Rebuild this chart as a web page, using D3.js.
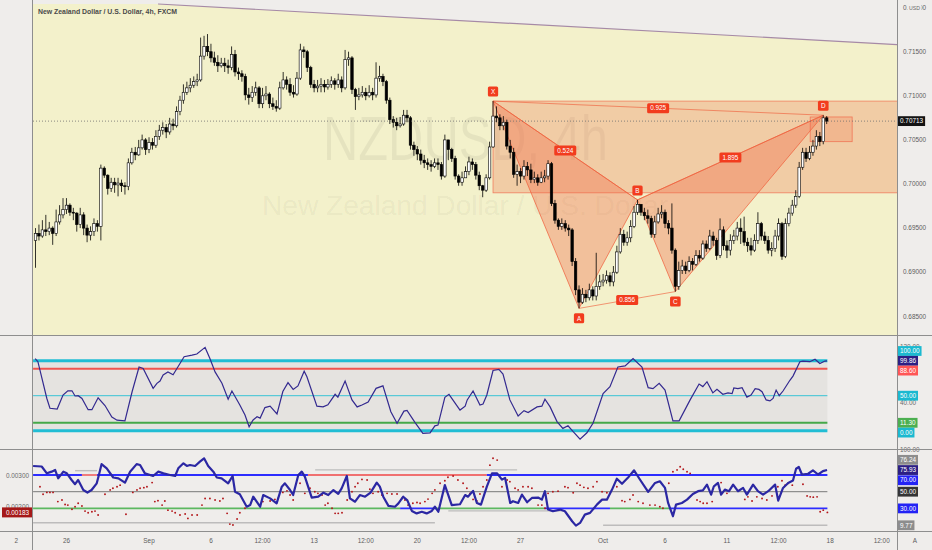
<!DOCTYPE html>
<html>
<head>
<meta charset="utf-8">
<script src="https://cdn.jsdelivr.net/npm/d3@7/dist/d3.min.js"></script>
<style>
html,body{margin:0;padding:0;background:#efedeb;}
svg{display:block;}
text{font-family:"Liberation Sans",Arial,sans-serif;}
</style>
</head>
<body>
<svg id="chart" width="932" height="550"></svg>
<script>
// ================= DATA =================
const timeTickBars   = [-5.6, 9, 33, 51, 66, 81, 96, 111, 126, 141, 165, 183, 201, 216, 231, 246];
const timeTickLabels = ["2","26","Sep","6","12:00","13","12:00","20","12:00","27","Oct","6","11","12:00","18","12:00"];
const priceTicks = [0.685,0.690,0.695,0.700,0.705,0.710,0.715,0.720];
const lastPrice = 0.70713;
const chartTitle = "New Zealand Dollar / U.S. Dollar, 4h, FXCM";
const watermarkSymbol = "NZDUSD, 4h";
const watermarkName = "New Zealand Dollar / U.S. Dollar";

// 4h candles (bar index 0..230)
const open = [0.6936,
0.6944,0.6941,0.6948,0.6946,0.6950,0.6944,0.6957,0.6965,0.6971,
0.6976,0.6968,0.6967,0.6954,0.6965,0.6950,0.6942,0.6946,0.6955,0.6952,
0.7018,0.7010,0.6995,0.7002,0.6999,0.7001,0.6998,0.6997,0.7024,0.7036,
0.7033,0.7041,0.7050,0.7039,0.7047,0.7044,0.7054,0.7061,0.7064,0.7059,
0.7068,0.7066,0.7082,0.7095,0.7104,0.7109,0.7112,0.7116,0.7118,0.7145,
0.7156,0.7150,0.7143,0.7138,0.7134,0.7137,0.7134,0.7132,0.7147,0.7127,
0.7125,0.7122,0.7101,0.7098,0.7104,0.7109,0.7091,0.7100,0.7102,0.7091,
0.7088,0.7086,0.7109,0.7118,0.7113,0.7104,0.7102,0.7120,0.7152,0.7150,
0.7132,0.7113,0.7109,0.7111,0.7113,0.7110,0.7113,0.7117,0.7113,0.7118,
0.7109,0.7141,0.7143,0.7107,0.7099,0.7101,0.7104,0.7100,0.7104,0.7101,
0.7120,0.7122,0.7116,0.7095,0.7073,0.7070,0.7066,0.7068,0.7078,0.7075,
0.7044,0.7039,0.7034,0.7027,0.7024,0.7022,0.7020,0.7024,0.7022,0.7009,
0.7050,0.7039,0.7029,0.7009,0.7002,0.7007,0.7014,0.7025,0.7022,0.7010,
0.6998,0.6993,0.7007,0.7042,0.7077,0.7075,0.7066,0.7070,0.7043,0.7036,
0.7011,0.7014,0.7009,0.7020,0.7016,0.7005,0.7007,0.7002,0.7007,0.7009,
0.7023,0.6978,0.6959,0.6952,0.6955,0.6950,0.6948,0.6912,0.6880,0.6866,
0.6875,0.6871,0.6880,0.6873,0.6884,0.6889,0.6891,0.6896,0.6889,0.6900,
0.6923,0.6943,0.6934,0.6939,0.6952,0.6968,0.6977,0.6968,0.6964,0.6961,
0.6943,0.6957,0.6966,0.6968,0.6955,0.6950,0.6925,0.6884,0.6902,0.6907,
0.6902,0.6912,0.6909,0.6919,0.6916,0.6932,0.6927,0.6941,0.6936,0.6919,
0.6948,0.6930,0.6925,0.6936,0.6941,0.6950,0.6946,0.6934,0.6930,0.6925,
0.6936,0.6955,0.6941,0.6936,0.6925,0.6927,0.6941,0.6955,0.6918,0.6955,
0.6967,0.6976,0.6986,0.7019,0.7036,0.7029,0.7036,0.7043,0.7054,0.7048,
0.7075];
const high = [
0.6950,0.6954,0.6959,0.6965,0.6957,0.6952,0.6971,0.6976,0.6984,0.6984,
0.6978,0.6973,0.6968,0.6973,0.6968,0.6954,0.6952,0.6961,0.6959,0.7022,
0.7020,0.7011,0.7007,0.7007,0.7007,0.7005,0.7002,0.7029,0.7041,0.7042,
0.7050,0.7056,0.7052,0.7053,0.7052,0.7061,0.7067,0.7070,0.7068,0.7075,
0.7074,0.7088,0.7100,0.7113,0.7116,0.7120,0.7122,0.7125,0.7166,0.7168,
0.7170,0.7159,0.7150,0.7146,0.7143,0.7143,0.7141,0.7156,0.7152,0.7132,
0.7129,0.7125,0.7109,0.7111,0.7116,0.7111,0.7109,0.7111,0.7104,0.7098,
0.7095,0.7116,0.7127,0.7122,0.7120,0.7112,0.7127,0.7159,0.7156,0.7152,
0.7134,0.7118,0.7118,0.7120,0.7118,0.7119,0.7122,0.7120,0.7125,0.7122,
0.7152,0.7150,0.7145,0.7109,0.7109,0.7111,0.7109,0.7112,0.7109,0.7138,
0.7134,0.7125,0.7118,0.7098,0.7077,0.7075,0.7076,0.7084,0.7084,0.7077,
0.7048,0.7043,0.7039,0.7033,0.7029,0.7027,0.7029,0.7029,0.7025,0.7056,
0.7050,0.7041,0.7032,0.7011,0.7014,0.7020,0.7031,0.7029,0.7025,0.7014,
0.6999,0.7011,0.7048,0.7094,0.7088,0.7079,0.7077,0.7073,0.7050,0.7041,
0.7022,0.7018,0.7027,0.7025,0.7023,0.7014,0.7011,0.7014,0.7016,0.7027,
0.7025,0.6982,0.6961,0.6961,0.6959,0.6954,0.6950,0.6916,0.6885,0.6882,
0.6880,0.6887,0.6884,0.6922,0.6897,0.6898,0.6902,0.6900,0.6907,0.6930,
0.6950,0.6948,0.6946,0.6959,0.6975,0.6982,0.6977,0.6973,0.6971,0.6964,
0.6964,0.6973,0.6976,0.6971,0.6959,0.6978,0.6927,0.6912,0.6914,0.6912,
0.6918,0.6916,0.6925,0.6925,0.6936,0.6936,0.6948,0.6946,0.6939,0.6961,
0.6952,0.6936,0.6943,0.6948,0.6957,0.6961,0.6963,0.6939,0.6939,0.6943,
0.6968,0.6957,0.6946,0.6941,0.6934,0.6948,0.6961,0.6957,0.6961,0.6973,
0.6982,0.6993,0.7025,0.7041,0.7041,0.7043,0.7050,0.7061,0.7059,0.7078,
0.7077];
const low = [
0.6905,0.6936,0.6939,0.6941,0.6942,0.6931,0.6941,0.6954,0.6961,0.6966,
0.6964,0.6959,0.6946,0.6950,0.6942,0.6934,0.6936,0.6941,0.6946,0.6936,
0.7007,0.6988,0.6991,0.6990,0.6986,0.6991,0.6988,0.6993,0.7022,0.7027,
0.7032,0.7039,0.7033,0.7035,0.7039,0.7041,0.7050,0.7056,0.7052,0.7056,
0.7061,0.7064,0.7078,0.7091,0.7101,0.7104,0.7109,0.7111,0.7116,0.7141,
0.7145,0.7138,0.7134,0.7127,0.7132,0.7127,0.7125,0.7129,0.7122,0.7118,
0.7116,0.7095,0.7090,0.7093,0.7100,0.7086,0.7086,0.7095,0.7086,0.7084,
0.7082,0.7084,0.7107,0.7107,0.7100,0.7098,0.7100,0.7118,0.7143,0.7127,
0.7109,0.7104,0.7104,0.7104,0.7104,0.7107,0.7109,0.7107,0.7109,0.7104,
0.7107,0.7134,0.7102,0.7084,0.7095,0.7098,0.7095,0.7098,0.7095,0.7098,
0.7116,0.7111,0.7091,0.7068,0.7064,0.7061,0.7064,0.7066,0.7070,0.7039,
0.7032,0.7027,0.7022,0.7018,0.7016,0.7014,0.7018,0.7016,0.7005,0.7007,
0.7027,0.7025,0.7005,0.6998,0.6998,0.7007,0.7010,0.7016,0.7005,0.6993,
0.6985,0.6991,0.7005,0.7041,0.7070,0.7061,0.7061,0.7039,0.7029,0.7007,
0.6998,0.7001,0.7005,0.7009,0.7001,0.7001,0.6998,0.7001,0.7002,0.7005,
0.6975,0.6955,0.6948,0.6948,0.6946,0.6941,0.6907,0.6874,0.6859,0.6864,
0.6866,0.6868,0.6868,0.6868,0.6880,0.6884,0.6887,0.6884,0.6884,0.6898,
0.6921,0.6930,0.6930,0.6934,0.6950,0.6965,0.6964,0.6959,0.6955,0.6939,
0.6939,0.6955,0.6961,0.6950,0.6943,0.6921,0.6878,0.6880,0.6898,0.6898,
0.6900,0.6902,0.6907,0.6912,0.6914,0.6923,0.6925,0.6930,0.6914,0.6916,
0.6925,0.6916,0.6919,0.6932,0.6936,0.6932,0.6930,0.6923,0.6919,0.6923,
0.6932,0.6936,0.6932,0.6921,0.6918,0.6923,0.6936,0.6914,0.6916,0.6952,
0.6964,0.6973,0.6984,0.7016,0.7025,0.7027,0.7032,0.7039,0.7043,0.7045,
0.7068];
const close = [
0.6944,0.6941,0.6948,0.6946,0.6950,0.6944,0.6957,0.6965,0.6971,0.6976,
0.6968,0.6967,0.6954,0.6965,0.6950,0.6942,0.6946,0.6955,0.6952,0.7018,
0.7010,0.6995,0.7002,0.6999,0.7001,0.6998,0.6997,0.7024,0.7036,0.7033,
0.7041,0.7050,0.7039,0.7047,0.7044,0.7054,0.7061,0.7064,0.7059,0.7068,
0.7066,0.7082,0.7095,0.7104,0.7109,0.7112,0.7116,0.7118,0.7145,0.7156,
0.7150,0.7143,0.7138,0.7134,0.7137,0.7134,0.7132,0.7147,0.7127,0.7125,
0.7122,0.7101,0.7098,0.7104,0.7109,0.7091,0.7100,0.7102,0.7091,0.7088,
0.7086,0.7109,0.7118,0.7113,0.7104,0.7102,0.7120,0.7152,0.7150,0.7132,
0.7113,0.7109,0.7111,0.7113,0.7110,0.7113,0.7117,0.7113,0.7118,0.7109,
0.7141,0.7143,0.7107,0.7099,0.7101,0.7104,0.7100,0.7104,0.7101,0.7120,
0.7122,0.7116,0.7095,0.7073,0.7070,0.7066,0.7068,0.7078,0.7075,0.7044,
0.7039,0.7034,0.7027,0.7024,0.7022,0.7020,0.7024,0.7022,0.7009,0.7050,
0.7039,0.7029,0.7009,0.7002,0.7007,0.7014,0.7025,0.7022,0.7010,0.6998,
0.6993,0.7007,0.7042,0.7077,0.7075,0.7066,0.7070,0.7043,0.7036,0.7011,
0.7014,0.7009,0.7020,0.7016,0.7005,0.7007,0.7002,0.7007,0.7009,0.7023,
0.6978,0.6959,0.6952,0.6955,0.6950,0.6948,0.6912,0.6880,0.6866,0.6875,
0.6871,0.6880,0.6873,0.6884,0.6889,0.6891,0.6896,0.6889,0.6900,0.6923,
0.6943,0.6934,0.6939,0.6952,0.6968,0.6977,0.6968,0.6964,0.6961,0.6943,
0.6957,0.6966,0.6968,0.6955,0.6950,0.6925,0.6884,0.6902,0.6907,0.6902,
0.6912,0.6909,0.6919,0.6916,0.6932,0.6927,0.6941,0.6936,0.6919,0.6948,
0.6930,0.6925,0.6936,0.6941,0.6950,0.6946,0.6934,0.6930,0.6925,0.6936,
0.6955,0.6941,0.6936,0.6925,0.6927,0.6941,0.6955,0.6918,0.6955,0.6967,
0.6976,0.6986,0.7019,0.7036,0.7029,0.7036,0.7043,0.7054,0.7048,0.7075,
0.70713];

// Trend line drawing (bar, price) that bounds the shaded channel
const trendBars = [36, 251];
const trendPrices = [0.7204, 0.7158];

// Harmonic pattern XABCD
const patternNames  = ["X","A","B","C","D"];
const patternBars   = [133, 158, 175, 186, 229];
const patternPrices = [0.7094, 0.6859, 0.6982, 0.6878, 0.7078];
const ratioPairs  = [[0,2],[0,4],[1,3],[2,4]];   // XB, XD, AC, BD
const ratioLabels = ["0.524","0.925","0.856","1.895"];
const zoneBars = [133, 262];           // large box
const zonePrices = [0.6990, 0.7094];
const przBars = [225.2, 237.4];        // small box at D
const przPrices = [0.7048, 0.7076];

// RSI-type oscillator (pane 2)
const rsiBars = [-0.1,0.7,3.3,4.2,6.3,8,9.4,10.6,11.5,12.4,13.5,15.3,16.4,18.2,20.2,22.2,23.7,26,28.1,30.1,31.3,34.2,35.3,36.2,37.1,38.5,40,42,43.2,45.5,46.9,49.3,50.7,52.2,54.2,56,57.1,59.4,60.9,62.1,63.2,64.4,65.3,66.7,68.2,70.2,71.9,73.4,74.9,76.3,78.1,78.9,81.8,83.6,85,87.1,87.9,90,92,93.5,94.9,96.7,99,101,103.3,105.1,107.1,108,110.3,112.6,114.7,116.1,117,119,120.2,123.4,124.9,125.5,127.2,129.2,130.1,131.2,133,134.7,135.9,137.9,140.3,142,143.2,145.8,147.2,148.1,149.6,151.6,153.3,154.8,156.3,158.3,160.3,162.1,165,167,169.3,171.4,173.7,176.3,178.1,179.5,181.3,183,185.3,187.1,190.3,192.9,194,195.2,196.9,198.1,199.8,201.3,202.5,203,204.2,205.4,206.8,208,209.2,210.3,211.2,212.4,213.5,214.4,215.3,216.2,217.3,219.3,220.2,222.2,223.1,225.1,226.6,228,229.5,230.1];
const rsiValues = [103,98.6,46,32,31,51,57,57,49.6,50,46,30,30,47,36,19.6,15,14,56,91,89,60.5,67.7,71,79.6,84,80,96,105.7,108,109.6,119,103,84,67.7,45,56.7,36.7,22.4,5.7,15,20,18,33,35,24,56,68.6,59,64,85,77,35,34,37,52,48,71,44,34,36.7,41,60.5,64,27,10.5,28,29,12,-3.8,-3,7,8,47.6,52,29.5,35,44,56.7,36.7,38,51,86,87.6,81,44,21,28.6,26,34,35,45,34,13,3.3,7,-1.4,-12,-3,11,53,63,91,92.6,103,91,61.5,60,67.7,58,14,14,44,66.7,63,70,54,59,52,54,53,61,60,61.5,48,51,60,59,55.7,44,42.6,46,58,50,56.7,72,78,98.6,99.5,98.6,102,96,99.5,99.86];
const rsiLevels = [100, 88.6, 50, 11.3, 0];
const rsiAxisTicks = [40, 120];
const rsiLastLabels = [["100.00",100],["99.86",99.86],["88.60",88.6],["50.00",50],["11.30",11.3],["0.00",0]];

// Oscillator (pane 3) main line, right scale
const oscBars = [-0.7,1.8,3.3,4.7,5.7,6.6,8.1,9.1,10.5,11.5,12.4,13.9,15.1,16.3,17.8,18.3,19.2,20.7,22.6,24.1,26,27.5,29.4,30.4,31.8,34.2,35.7,37.2,39.1,40.6,41.5,43,44,44.9,46.4,47.8,49,50.2,51.7,52.7,54.1,56,57.3,58,59.4,61.4,62.4,63.3,65.3,66.2,68.2,70.1,71.6,72.5,74,74.9,76.4,77.4,78.3,80.3,82.2,83.7,85.1,86.6,88,89,90.5,91.4,92.9,94.3,95.8,97.4,99.2,100.1,101.1,102.6,104.5,105.5,106.9,108.1,109.4,110.8,112.3,113.7,115.2,116.1,117.1,119,121,123.4,124.9,125.7,127.2,128.3,129.5,131.2,132.7,134.2,135.6,136.5,138,138.8,140.3,141.4,142.9,144.3,146.1,147.2,148.1,149,150.4,152.5,153.9,156,157.1,158.3,159.7,161.2,163.2,164.7,166.1,167.6,169,170.5,172.2,174,175.7,178.1,180.1,181.5,183,183.9,185.3,186.2,187.9,189.4,191.1,192.6,194,195.2,196.4,197.2,198.4,199.3,200.4,201.6,202.8,204.2,205.7,206.8,208.6,210,211.5,213,215,215.9,217.3,218.8,220.2,221.1,221.9,222.8,224.6,226,227.5,228.9,230.1];
const oscValues = [80.8,80.2,72,74,76,66,74,72,64,59,64,52,49,52,60,68,83,78,67,66,60.8,74,83,82,72,68.8,74,72,70,68.8,78,84,80.8,82,80.8,86,90,80.8,74,67,66,60,68.8,50,47,32,34,44,32,46,42,36,56,60,52,46,70,74,68,43,44,48.8,46,52,47.5,54,68.8,42,38,46,44,48.8,60.8,56,44,33,32,36,44,39.6,27,24,26,24,27,32,26,58,34,35,46,44,51,36.5,34.5,56,72,72,64.5,66.6,36.5,38.6,36.5,46.5,37.4,42.5,43,40.5,50.6,28.6,26.6,28.6,26.6,14.6,9.4,12.6,22.6,24.6,34.5,40.5,40.5,52.5,65.6,59.5,66.6,75.6,64.6,49.7,60.5,62.5,54.5,36.5,20.6,34.5,36.5,40.5,47.3,50.6,51.5,58.5,46.5,56.5,60.5,46.5,52.5,50.6,58.5,50.6,54.5,46.5,58.5,50.6,46.5,50.6,58.5,39.4,54.5,60.5,63.4,77.5,79.6,70.6,71.5,75.6,70.6,74.6,75.93];
// signal dots, left scale
const dotBars = [1.3,2.2,3.3,4.2,5.1,6.5,7.7,8.6,9.4,10.6,11.5,12.4,13.5,14.4,15.3,16.4,17.3,18.2,20.2,21.7,22.5,23.7,24.6,26.3,28.3,29.5,30.4,31.5,32.4,33.9,34.7,35.6,36.8,37.6,38.5,39.7,40.6,42,43.5,44.3,45.5,47,48.4,49.3,50.7,52.2,53.6,54.5,55.7,56.5,57.4,58.6,59.4,60.9,66.1,68.2,69.6,70.5,71.9,73.1,74,74.9,76.9,78.3,79.8,81.2,82.1,83.3,84.2,85,86.2,87.1,88,89.1,90.6,92,92.9,93.7,94.9,96.4,97.2,98.1,99.6,100.7,102.2,103.6,105.1,106.5,107.4,108.3,109.7,110.9,111.8,113.2,114.1,115.3,116.1,117.6,119,119.9,121.4,122.8,124.3,125.4,126.3,127.2,128.3,129.2,130.1,131.2,132.1,133,134.2,135.6,137.1,137.9,139.4,140.3,141.7,143.2,144.3,146.1,147.2,148.1,149,150.4,151.9,153.9,154.8,156.3,157.4,158.3,159.4,160.6,162.1,163.2,164.7,166.1,167,169,170.5,171.3,172.8,173.7,175.2,176.6,178.6,180.1,181.5,182.4,184.1,185.3,186.5,187.4,188.3,189.4,190.3,192.3,193.2,194.1,195.2,196.7,199.3,201,206.2,207.1,208.3,209.7,211.2,212.6,214.1,215.8,217,217.9,218.8,220,223.1,224.3,225.2,226.1,227.2,228.1,229,230.2];
const dotValues = [0.00264,0.00240,0.00246,0.00246,0.00246,0.00217,0.00222,0.00208,0.00206,0.00193,0.00201,0.00212,0.00203,0.00187,0.00182,0.00185,0.00187,0.00175,0.00240,0.00254,0.00259,0.00264,0.00269,0.00177,0.00246,0.00254,0.00259,0.00261,0.00264,0.00277,0.00217,0.00220,0.00206,0.00219,0.00190,0.00187,0.00182,0.00175,0.00178,0.00164,0.00175,0.00175,0.00206,0.00227,0.00227,0.00222,0.00219,0.00227,0.00180,0.00146,0.00143,0.00162,0.00182,0.00196,0.00217,0.00219,0.00224,0.00227,0.00246,0.00251,0.00238,0.00222,0.00275,0.00243,0.00259,0.00248,0.00243,0.00238,0.00206,0.00212,0.00196,0.00180,0.00180,0.00182,0.00222,0.00248,0.00264,0.00275,0.00287,0.00285,0.00256,0.00243,0.00248,0.00238,0.00243,0.00241,0.00241,0.00227,0.00222,0.00206,0.00212,0.00214,0.00212,0.00217,0.00225,0.00243,0.00254,0.00275,0.00283,0.00294,0.00298,0.00285,0.00275,0.00259,0.00243,0.00224,0.00219,0.00241,0.00264,0.00285,0.00332,0.00354,0.00348,0.00264,0.00285,0.00280,0.00259,0.00254,0.00264,0.00264,0.00259,0.00206,0.00206,0.00196,0.00243,0.00248,0.00250,0.00264,0.00261,0.00245,0.00275,0.00269,0.00262,0.00259,0.00264,0.00280,0.00248,0.00245,0.00243,0.00264,0.00220,0.00217,0.00224,0.00238,0.00217,0.00212,0.00206,0.00206,0.00201,0.00196,0.00275,0.00311,0.00317,0.00327,0.00319,0.00311,0.00306,0.00222,0.00217,0.00212,0.00212,0.00217,0.00277,0.00243,0.00224,0.00232,0.00219,0.00232,0.00227,0.00222,0.00235,0.00264,0.00283,0.00269,0.00275,0.00269,0.00272,0.00235,0.00232,0.00231,0.00232,0.00185,0.00190,0.00183];
const oscLevels = [70, 50, 30];
// level-line state segments: [startBar, endBar, state]
const osc70Segments = [[-0.7,13.5,0],[13.5,17.9,1],[17.9,79.2,0],[79.2,131.2,1],[131.2,230.2,0]];
const osc30Segments = [[-0.7,106,1],[106,116.7,0],[116.7,148,1],[148,167,0],[167,184.5,1],[184.5,230.2,0]];
const oscGuideStart = [11.5, 81.3, -0.7, 120, 165];
const oscGuideEnd   = [17.9, 140, 116.1, 153.4, 230.2];
const oscGuideLevel = [75.2, 76.1, 12.9, 27, 9.77];
const oscAxisTicks = [100];
const oscLastLabels = [["76.24",76.24],["75.93",75.93],["70.00",70],["50.00",50],["30.00",30],["9.77",9.77]];
const leftTicks = [0.002, 0.003];
const lastDot = 0.00183;
const firstBar = -0.7, lastBar = 230.2;

// ================= DRAW =================
const W = 932, H = 550, L = 33, R = 897;
const svg = d3.select("#chart");
const bg = "#efedeb";
const x  = d3.scaleLinear().domain([0, 230]).range([35.5, 826.7]);
const yP = d3.scaleLinear().domain([0.685, 0.715]).range([316.3, 51.7]);
const yR = d3.scaleLinear().domain([0, 100]).range([430.7, 360.7]);
const yO = d3.scaleLinear().domain([30, 70]).range([508.4, 475]);
const yL = d3.scaleLinear().domain([0.002, 0.003]).range([507, 475.3]);
const FS = 6.4;

const defs = svg.append("defs");
function clip(id, x0, y0, w, h){ defs.append("clipPath").attr("id", id).append("rect").attr("x", x0).attr("y", y0).attr("width", w).attr("height", h); }
clip("cMain", L, 0, R - L, 335);
clip("cRsi", L, 336, R - L, 113);
clip("cOsc", L, 450, R - L, 81);

svg.append("rect").attr("width", W).attr("height", H).attr("fill", bg);

// ---------- main pane ----------
const gM = svg.append("g").attr("clip-path", "url(#cMain)");
const tA = [x(trendBars[0]), yP(trendPrices[0])], tB = [x(trendBars[1]), yP(trendPrices[1])];
const slope = (tB[1] - tA[1]) / (tB[0] - tA[0]);
const topY = 4;
const xCross = tA[0] + (topY - tA[1]) / slope;
const yAtR = tA[1] + slope * (R - tA[0]);
gM.append("polygon")
  .attr("points", [[L, topY], [xCross, topY], [R, yAtR], [R, 335], [L, 335]].map(p => p.join(",")).join(" "))
  .attr("fill", "#f3f1cb");
gM.append("line").attr("x1", xCross).attr("y1", topY).attr("x2", R).attr("y2", yAtR)
  .attr("stroke", "#a68aa6").attr("stroke-width", 1.2);

// watermark
gM.append("text").attr("x", 323).attr("y", 160).attr("font-size", 63)
  .attr("textLength", 285).attr("lengthAdjust", "spacingAndGlyphs")
  .attr("fill", "rgba(0,0,0,0.055)").text(watermarkSymbol);
gM.append("text").attr("x", 262).attr("y", 215).attr("font-size", 28)
  .attr("textLength", 406).attr("lengthAdjust", "spacingAndGlyphs")
  .attr("fill", "rgba(0,0,0,0.055)").text(watermarkName);

// pattern zone box (behind candles)
const zx0 = x(zoneBars[0]), zx1 = x(zoneBars[1]);
gM.append("rect").attr("x", zx0).attr("y", yP(zonePrices[1])).attr("width", zx1 - zx0)
  .attr("height", yP(zonePrices[0]) - yP(zonePrices[1]))
  .attr("fill", "rgba(240,120,80,0.30)").attr("stroke", "rgba(240,110,80,0.85)").attr("stroke-width", 0.8);

const P = patternBars.map((b, i) => [x(b), yP(patternPrices[i])]);
[[0,1,2],[2,3,4]].forEach(tri => {
  gM.append("polygon").attr("points", tri.map(k => P[k].join(",")).join(" "))
    .attr("fill", "rgba(240,105,70,0.36)").attr("stroke", "rgba(240,95,60,0.9)").attr("stroke-width", 0.8);
});
ratioPairs.forEach(([a, b]) => {
  gM.append("line").attr("x1", P[a][0]).attr("y1", P[a][1]).attr("x2", P[b][0]).attr("y2", P[b][1])
    .attr("stroke", "rgba(240,95,60,0.8)").attr("stroke-width", 0.8);
});
const px0 = x(przBars[0]), px1 = x(przBars[1]);
gM.append("rect").attr("x", px0).attr("y", yP(przPrices[1])).attr("width", px1 - px0)
  .attr("height", yP(przPrices[0]) - yP(przPrices[1]))
  .attr("fill", "rgba(240,110,70,0.22)").attr("stroke", "rgba(240,100,70,0.8)").attr("stroke-width", 0.8);

// candles
const gC = gM.append("g");
open.forEach((o, i) => {
  const c = close[i];
  const hi = Math.max(high[i], o, c), lo = Math.min(low[i], o, c);
  const cx = x(i);
  gC.append("line").attr("x1", cx).attr("x2", cx).attr("y1", yP(hi)).attr("y2", yP(lo))
    .attr("stroke", "#000").attr("stroke-width", 0.8);
  const yt = yP(Math.max(o, c)), yb = yP(Math.min(o, c));
  gC.append("rect").attr("x", cx - 1.25).attr("width", 2.5).attr("y", yt).attr("height", Math.max(0.8, yb - yt))
    .attr("fill", c >= o ? "#ffffff" : "#000000").attr("stroke", "#000").attr("stroke-width", 0.6);
});

// last price dotted line
gM.append("line").attr("x1", L).attr("x2", R).attr("y1", yP(lastPrice)).attr("y2", yP(lastPrice))
  .attr("stroke", "#6f6f6f").attr("stroke-width", 0.8).attr("stroke-dasharray", "1,2");

// pattern labels
function tag(g, cx, cy, text) {
  const t = g.append("text").attr("x", cx).attr("y", cy).attr("dy", "0.35em").attr("text-anchor", "middle")
    .attr("font-size", FS).attr("fill", "#fff").text(text);
  const w = t.node().getComputedTextLength();
  g.insert("rect", () => t.node()).attr("x", cx - w / 2 - 3).attr("y", cy - 5).attr("width", w + 6).attr("height", 10)
    .attr("rx", 1.5).attr("fill", "#f23c1e");
}
ratioPairs.forEach(([a, b], i) => tag(gM, (P[a][0] + P[b][0]) / 2, (P[a][1] + P[b][1]) / 2, ratioLabels[i]));
patternNames.forEach((n, i) => tag(gM, P[i][0], P[i][1] + (i % 2 === 0 ? -9.5 : 10), n));

// title
svg.append("text").attr("x", 38).attr("y", 14).attr("font-size", 6.9).attr("font-weight", "bold")
  .attr("fill", "#4a4a4a").text(chartTitle);

// ---------- RSI pane ----------
const gR = svg.append("g").attr("clip-path", "url(#cRsi)");
gR.append("rect").attr("x", x(firstBar)).attr("width", x(lastBar) - x(firstBar))
  .attr("y", yR(100)).attr("height", yR(0) - yR(100)).attr("fill", "#e5e3e0");
const rsiLevelStyle = {100: ["#22bdd4", 3], 88.6: ["#f0554f", 2], 50: ["#39c3d6", 1], 11.3: ["#45a849", 2], 0: ["#22bdd4", 3]};
rsiLevels.forEach(v => {
  gR.append("line").attr("x1", x(firstBar)).attr("x2", x(lastBar)).attr("y1", yR(v)).attr("y2", yR(v))
    .attr("stroke", rsiLevelStyle[v][0]).attr("stroke-width", rsiLevelStyle[v][1]);
});
gR.append("path").datum(rsiBars.map((b, i) => [b, rsiValues[i]]))
  .attr("d", d3.line().x(d => x(d[0])).y(d => yR(d[1])))
  .attr("fill", "none").attr("stroke", "#33298f").attr("stroke-width", 1.2);

// ---------- Oscillator pane ----------
const gO = svg.append("g").attr("clip-path", "url(#cOsc)");
oscGuideStart.forEach((s, i) => {
  gO.append("line").attr("x1", x(s)).attr("x2", x(oscGuideEnd[i])).attr("y1", yO(oscGuideLevel[i])).attr("y2", yO(oscGuideLevel[i]))
    .attr("stroke", "#bdbcbc").attr("stroke-width", 1.4);
});
gO.append("line").attr("x1", x(firstBar)).attr("x2", x(lastBar)).attr("y1", yO(50)).attr("y2", yO(50))
  .attr("stroke", "#5a5a5a").attr("stroke-width", 0.8);
osc70Segments.forEach(([s, e, st]) => {
  gO.append("line").attr("x1", x(s)).attr("x2", x(e)).attr("y1", yO(70)).attr("y2", yO(70))
    .attr("stroke", st ? "#f07070" : "#2d2dff").attr("stroke-width", 1.8);
});
osc30Segments.forEach(([s, e, st]) => {
  gO.append("line").attr("x1", x(s)).attr("x2", x(e)).attr("y1", yO(30)).attr("y2", yO(30))
    .attr("stroke", st ? "#5cb860" : "#2d2dff").attr("stroke-width", 1.8);
});
gO.selectAll("circle.dot").data(dotBars.map((b, i) => [b, dotValues[i]])).enter().append("circle")
  .attr("cx", d => x(d[0])).attr("cy", d => yL(d[1])).attr("r", 0.95).attr("fill", "#b3171b");
gO.append("path").datum(oscBars.map((b, i) => [b, oscValues[i]]))
  .attr("d", d3.line().x(d => x(d[0])).y(d => yO(d[1])))
  .attr("fill", "none").attr("stroke", "#2b27a3").attr("stroke-width", 2.2).attr("stroke-linejoin", "round");

// ---------- axes & frames ----------
const gAx = svg.append("g");
priceTicks.forEach(p => {
  gAx.append("text").attr("x", 903).attr("y", yP(p)).attr("dy", "0.35em").attr("font-size", FS)
    .attr("fill", "#5c5c5c").text(p.toFixed(5));
});
gAx.append("rect").attr("x", 907.5).attr("y", 3).attr("width", 14).attr("height", 10).attr("fill", bg);
gAx.append("text").attr("x", 914.5).attr("y", 9.5).attr("text-anchor", "middle").attr("font-size", 5.2)
  .attr("fill", "#6a6a6a").text("USD");

function axisLabel(yv, text, fill, fg) {
  const t = gAx.append("text").attr("x", 900).attr("y", yv).attr("dy", "0.35em").attr("font-size", FS)
    .attr("fill", fg || "#fff").text(text);
  const w = t.node().getComputedTextLength();
  gAx.insert("rect", () => t.node()).attr("x", 898).attr("y", yv - 4.9).attr("width", w + 4).attr("height", 9.8).attr("fill", fill);
}
axisLabel(yP(lastPrice), lastPrice.toFixed(5), "#131313");

// axis ticks that peek out from behind the value labels
rsiAxisTicks.forEach(v => gAx.append("text").attr("x", 900).attr("y", yR(v)).attr("dy", "0.35em")
  .attr("font-size", FS).attr("fill", "#6a6a6a").text(v.toFixed(2)));
oscAxisTicks.forEach(v => gAx.append("text").attr("x", 900).attr("y", yO(v)).attr("dy", "0.35em")
  .attr("font-size", FS).attr("fill", "#6a6a6a").text(v.toFixed(2)));

function spread(items, anchorIdx, h) {
  const a = items[anchorIdx]; a.dy = a.y;
  let prev = a.dy;
  items.filter(d => d !== a && d.y <= a.y).sort((p, q) => q.y - p.y).forEach(d => { d.dy = Math.min(d.y, prev - h); prev = d.dy; });
  prev = a.dy;
  items.filter(d => d !== a && d.y > a.y).sort((p, q) => p.y - q.y).forEach(d => { d.dy = Math.max(d.y, prev + h); prev = d.dy; });
}
const rsiColors = ["#1bb9d0", "#2c1f84", "#ff5656", "#1bb9d0", "#4caf50", "#1bb9d0"];
const rItems = rsiLastLabels.map((d, i) => ({t: d[0], y: yR(d[1]), c: rsiColors[i]}));
spread(rItems, 1, 9.8);
rItems.forEach(d => axisLabel(d.dy, d.t, d.c));
const oscColors = ["#8d8d8d", "#2c1f84", "#2323f5", "#353535", "#2323f5", "#8d8d8d"];
const oItems = oscLastLabels.map((d, i) => ({t: d[0], y: yO(d[1]), c: oscColors[i]}));
spread(oItems, 1, 10.2);
oItems.forEach(d => axisLabel(d.dy, d.t, d.c));

// left scale of pane 3
leftTicks.forEach(v => svg.append("text").attr("x", 29).attr("y", yL(v)).attr("dy", "0.35em").attr("text-anchor", "end")
  .attr("font-size", FS).attr("fill", "#6a6a6a").text(v.toFixed(5)));
{
  const t = svg.append("text").attr("x", 17.5).attr("y", yL(lastDot)).attr("dy", "0.35em").attr("text-anchor", "middle")
    .attr("font-size", FS).attr("fill", "#fff").text(lastDot.toFixed(5));
  svg.insert("rect", () => t.node()).attr("x", 2).attr("y", yL(lastDot) - 5).attr("width", 31).attr("height", 10).attr("fill", "#a51818");
}

// time axis
timeTickBars.forEach((b, i) => svg.append("text").attr("x", x(b)).attr("y", 541).attr("dy", "0.35em")
  .attr("text-anchor", "middle").attr("font-size", FS).attr("fill", "#5c5c5c").text(timeTickLabels[i]));
svg.append("text").attr("x", 915).attr("y", 541).attr("dy", "0.35em").attr("text-anchor", "middle")
  .attr("font-size", FS).attr("fill", "#5c5c5c").text("A");

// frame lines
[335.5, 449.5, 531.5].forEach(yv => svg.append("line").attr("x1", 0).attr("x2", W).attr("y1", yv).attr("y2", yv)
  .attr("stroke", "#8e8e8e").attr("stroke-width", 1));
svg.append("line").attr("x1", L - 0.5).attr("x2", L - 0.5).attr("y1", 0).attr("y2", H).attr("stroke", "#8e8e8e");
svg.append("line").attr("x1", R + 0.5).attr("x2", R + 0.5).attr("y1", 0).attr("y2", H).attr("stroke", "#8e8e8e");
</script>
</body>
</html>
